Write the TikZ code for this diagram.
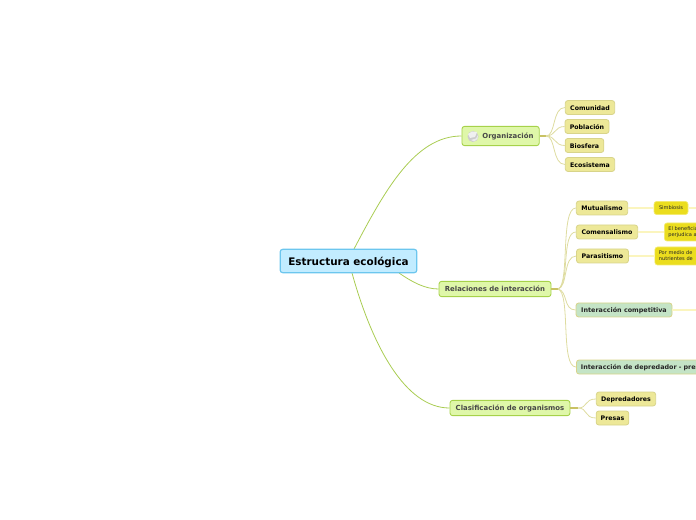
\documentclass[tikz,border=0pt]{standalone}
\usepackage{fontspec}
\setmainfont{DejaVu Sans}
\definecolor{rootfill}{HTML}{C2ECFF}
\definecolor{rootline}{HTML}{6CC6EE}
\definecolor{mainfill}{HTML}{DFF7A9}
\definecolor{mainline}{HTML}{A6D24A}
\definecolor{subfill}{HTML}{EDE898}
\definecolor{subline}{HTML}{D8D48A}
\definecolor{tealfill}{HTML}{C4E4C6}
\definecolor{yelfill}{HTML}{EBDD1E}
\definecolor{yelline}{HTML}{F3EA70}
\definecolor{edgeA}{HTML}{A9CC52}
\definecolor{edgeB}{HTML}{DEDCA0}
\definecolor{edgeC}{HTML}{C9C264}
\definecolor{edgeD}{HTML}{FBF5BE}
\tikzset{
  x=0.75pt,y=-0.75pt,
  box/.style={draw,rounded corners=2pt,inner sep=0pt,align=center},
  rootbox/.style={box,fill=rootfill,draw=rootline,line width=0.9pt,font=\fontsize{7.8}{9}\selectfont\bfseries,text=black,text height=6.2pt,text depth=0pt},
  mainbox/.style={box,fill=mainfill,draw=mainline,line width=0.65pt,font=\fontsize{5.2}{6}\selectfont\bfseries,text=black!72,text height=4pt,text depth=0pt},
  subbox/.style={box,fill=subfill,draw=subline,line width=0.6pt,font=\fontsize{4.7}{6}\selectfont\bfseries,text=black,text height=3.9pt,text depth=0pt},
  tealbox/.style={box,fill=tealfill,draw=subline,line width=0.6pt,font=\fontsize{4.8}{6}\selectfont\bfseries,text=black!85,text height=3.9pt,text depth=0pt},
  yelbox/.style={box,fill=yelfill,draw=yelline,line width=0.5pt,font=\fontsize{3.8}{4.6}\selectfont,text=black!85},
  edgeroot/.style={draw=edgeA,line width=0.6pt},
  edgesub/.style={draw=edgeB,line width=0.6pt},
  edgestub/.style={draw=edgeC,line width=1pt},
  edgeleaf/.style={draw=edgeD,line width=1pt},
}
\begin{document}
\begin{tikzpicture}
\useasboundingbox (0,0) rectangle (696,520);
\clip (0,0) rectangle (696,520);
% coordinates on borders and forks
\coordinate (rA) at (354,249);
\coordinate (rB) at (399,273);
\coordinate (rC) at (352,273);
\coordinate (forkO) at (546,136);
\coordinate (forkR) at (558,289);
\coordinate (forkC) at (578,408);
\coordinate (endS) at (700,208);
\coordinate (endI) at (700,310);
% connectors
\draw[edgeroot] (rA) .. controls (385,190) and (415,136) .. (461.5,136) coordinate (orgw);
\draw[edgeroot] (rB) .. controls (412,282) and (425,289) .. (438.5,289) coordinate (relw);
\draw[edgeroot] (rC) .. controls (372,345) and (405,408) .. (449.5,408) coordinate (claw);
% nodes
\node[rootbox,minimum width=102.5pt,minimum height=17.6pt] (root) at (348.5,261) {Estructura ecológica};
\node[mainbox,minimum width=58pt,minimum height=14.5pt,anchor=west,text width=58pt,align=right] (org) at (461.5,136) {Organización\hspace*{4.3pt}};
\node[mainbox,minimum width=84pt,minimum height=11.5pt] (rel) at (495,289) {Relaciones de interacción};
\node[mainbox,minimum width=90pt,minimum height=11.5pt] (cla) at (510,408) {Clasificación de organismos};
\node[subbox,minimum width=37pt,minimum height=10.5pt] (com) at (590,107.5) {Comunidad};
\node[subbox,minimum width=33pt,minimum height=10.5pt] (pob) at (587,126.5) {Población};
\node[subbox,minimum width=29pt,minimum height=10.5pt] (bio) at (584.5,145.5) {Biosfera};
\node[subbox,minimum width=37pt,minimum height=10.5pt] (eco) at (590,164.5) {Ecosistema};
\node[subbox,minimum width=38.5pt,minimum height=10.5pt] (mut) at (602,208) {Mutualismo};
\node[subbox,minimum width=46pt,minimum height=10.5pt] (cms) at (607,232) {Comensalismo};
\node[subbox,minimum width=39pt,minimum height=10.5pt] (par) at (602.5,256) {Parasitismo};
\node[tealbox,minimum width=72pt,minimum height=10.5pt] (inc) at (624,310) {Interacción competitiva};
\node[tealbox,minimum width=100pt,minimum height=10.5pt,anchor=west,text width=100pt,align=left] (ind) at (576,367) {\hspace*{3.4pt}Interacción de depredador - presa};
\node[subbox,minimum width=44.5pt,minimum height=10.5pt] (dep) at (626,399) {Depredadores};
\node[subbox,minimum width=24.5pt,minimum height=10.5pt] (pre) at (612.5,418) {Presas};
\node[yelbox,minimum width=25.5pt,minimum height=9.8pt] (sim) at (671,208) {Simbiosis};
\node[yelbox,minimum width=40pt,minimum height=13.5pt,anchor=west,text width=40pt,align=left] (ben) at (664,232) {\hspace*{3pt}El beneficiado\\\hspace*{3pt}perjudica a};
\node[yelbox,minimum width=50pt,minimum height=13.5pt,anchor=west,text width=50pt,align=left] (med) at (654.5,256) {\hspace*{3pt}Por medio de\\\hspace*{3pt}nutrientes de};
% sub connectors
\draw[edgestub] (org.east) -- (forkO);
\draw[edgestub] (rel.east) -- (forkR);
\draw[edgestub] (cla.east) -- (forkC);
\draw[edgesub] (forkO) .. controls (556,136) and (552,107.5) .. (com.west);
\draw[edgesub] (forkO) .. controls (556,136) and (554,126.5) .. (pob.west);
\draw[edgesub] (forkO) .. controls (556,136) and (554,145.5) .. (bio.west);
\draw[edgesub] (forkO) .. controls (556,136) and (552,164.5) .. (eco.west);
\draw[edgesub] (forkR) .. controls (570,285) and (560,208) .. (mut.west);
\draw[edgesub] (forkR) .. controls (570,285) and (561,232) .. (cms.west);
\draw[edgesub] (forkR) .. controls (568,287) and (563,256) .. (par.west);
\draw[edgesub] (forkR) .. controls (568,291) and (563,310) .. (inc.west);
\draw[edgesub] (forkR) .. controls (571,293) and (560,367) .. (ind.west);
\draw[edgesub] (forkC) .. controls (588,408) and (584,399) .. (dep.west);
\draw[edgesub] (forkC) .. controls (588,408) and (584,418) .. (pre.west);
\draw[edgeleaf] (mut.east) -- (sim.west);
\draw[edgeleaf] (cms.east) -- (ben.west);
\draw[edgeleaf] (par.east) -- (med.west);
\draw[edgeleaf] (sim.east) -- (endS);
\draw[edgeleaf] (inc.east) -- (endI);
% icon
\fill[black!20] (473,136.5) circle[radius=5.5];
\fill[black!6] (468,134) -- (472,131.5) -- (477,132) -- (475,137) -- (470,138) -- cycle;
\fill[black!8] (471,140) -- (476,138.5) -- (478,135) -- (477.5,139) -- (474,141.5) -- cycle;
\end{tikzpicture}
\end{document}
